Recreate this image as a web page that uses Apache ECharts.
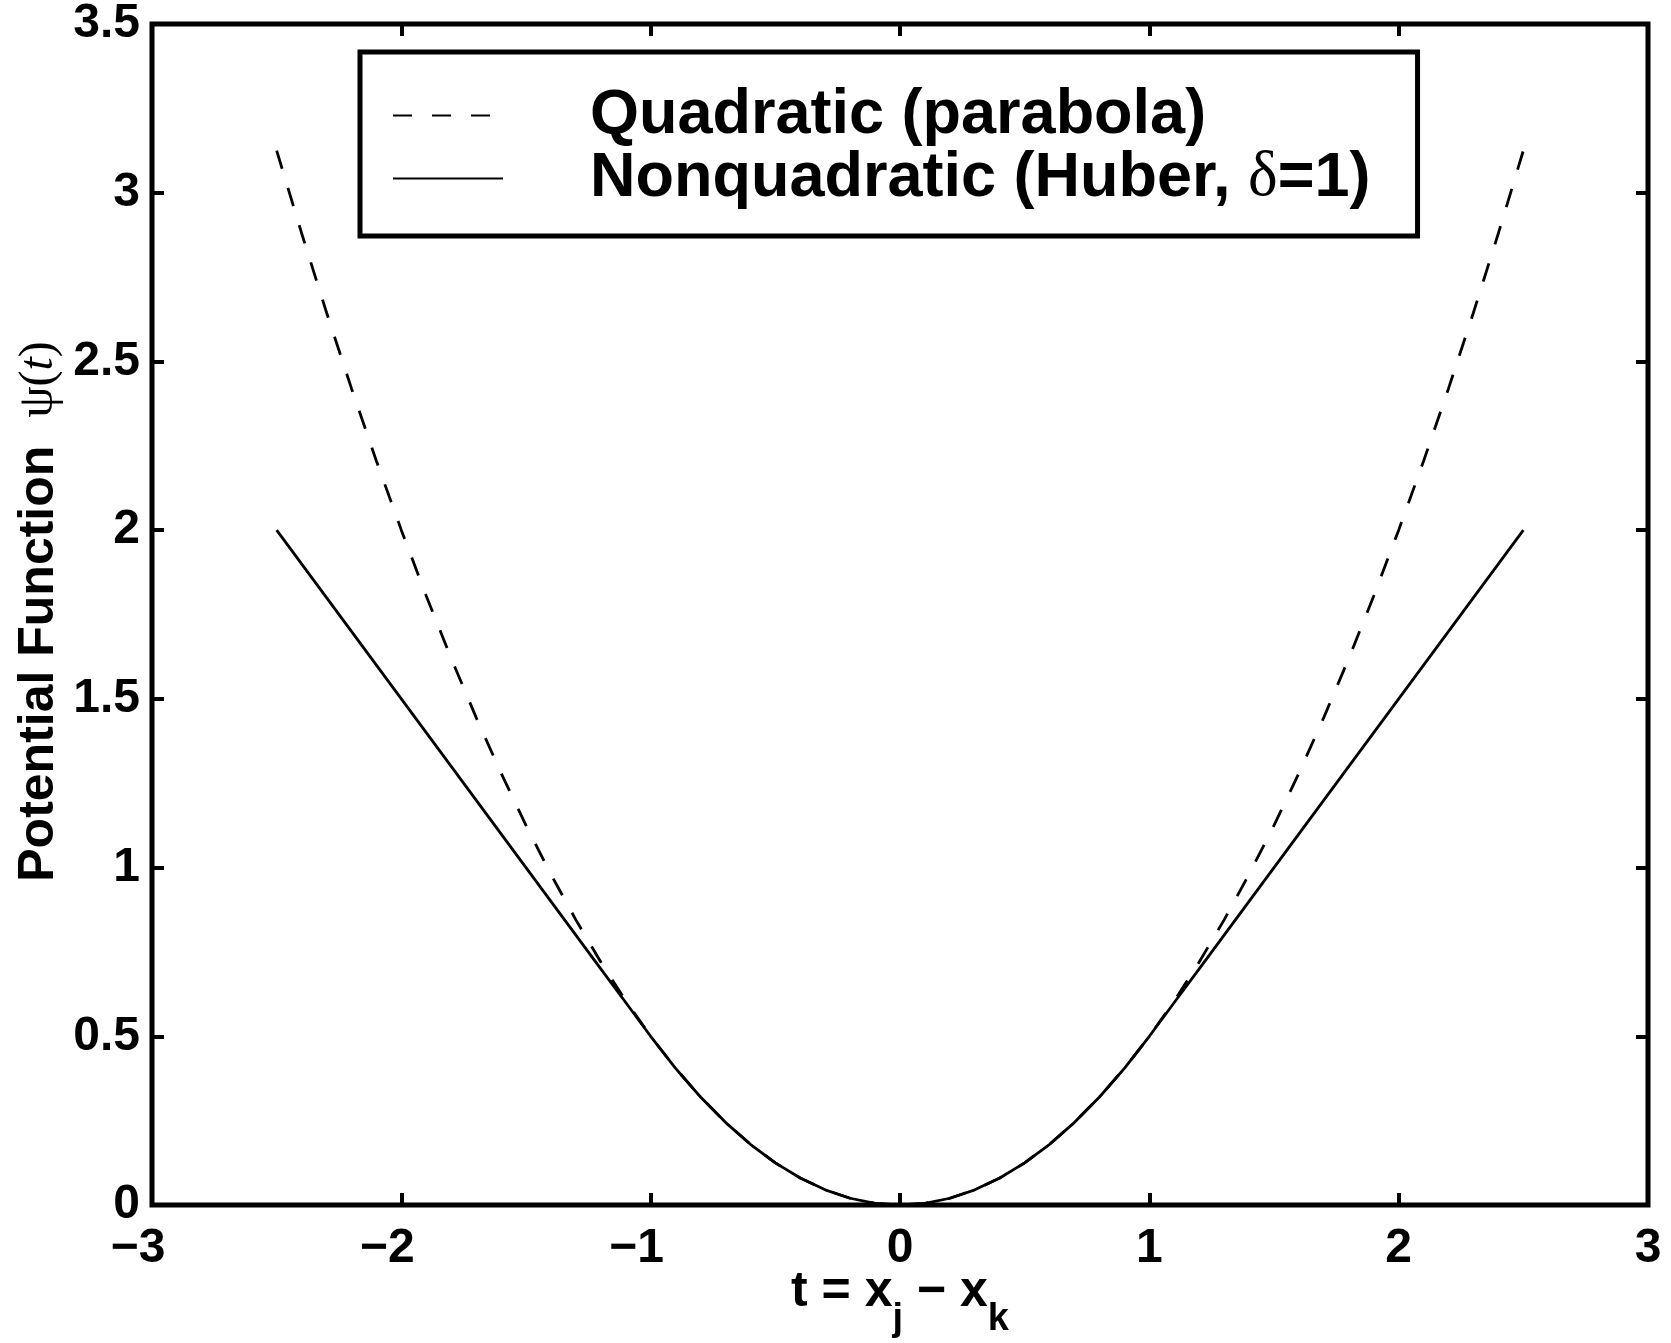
<!DOCTYPE html>
<html>
<head>
<meta charset="utf-8">
<title>Potential Function</title>
<script src="https://cdn.jsdelivr.net/npm/echarts@6/dist/echarts.min.js"></script>
<style>
  html, body { margin: 0; padding: 0; background: #ffffff; }
  #chart { width: 1671px; height: 1343px; }
</style>
</head>
<body>
<div id="chart"></div>
<script>
// Sample points of the difference t = x_j - x_k
const tValues = [
  -2.5, -2.4, -2.3, -2.2, -2.1, -2.0, -1.9, -1.8, -1.7, -1.6,
  -1.5, -1.4, -1.3, -1.2, -1.1, -1.0, -0.9, -0.8, -0.7, -0.6,
  -0.5, -0.4, -0.3, -0.2, -0.1, 0.0, 0.1, 0.2, 0.3, 0.4,
  0.5, 0.6, 0.7, 0.8, 0.9, 1.0, 1.1, 1.2, 1.3, 1.4,
  1.5, 1.6, 1.7, 1.8, 1.9, 2.0, 2.1, 2.2, 2.3, 2.4, 2.5
];

// Quadratic potential (parabola)
const quadraticValues = [
  3.125, 2.88, 2.645, 2.42, 2.205, 2.0, 1.805, 1.62, 1.445, 1.28,
  1.125, 0.98, 0.845, 0.72, 0.605, 0.5, 0.405, 0.32, 0.245, 0.18,
  0.125, 0.08, 0.045, 0.02, 0.005, 0.0, 0.005, 0.02, 0.045, 0.08,
  0.125, 0.18, 0.245, 0.32, 0.405, 0.5, 0.605, 0.72, 0.845, 0.98,
  1.125, 1.28, 1.445, 1.62, 1.805, 2.0, 2.205, 2.42, 2.645, 2.88, 3.125
];

// Huber potential with delta = 1
const huberValues = [
  2.0, 1.9, 1.8, 1.7, 1.6, 1.5, 1.4, 1.3, 1.2, 1.1,
  1.0, 0.9, 0.8, 0.7, 0.6, 0.5, 0.405, 0.32, 0.245, 0.18,
  0.125, 0.08, 0.045, 0.02, 0.005, 0.0, 0.005, 0.02, 0.045, 0.08,
  0.125, 0.18, 0.245, 0.32, 0.405, 0.5, 0.6, 0.7, 0.8, 0.9,
  1.0, 1.1, 1.2, 1.3, 1.4, 1.5, 1.6, 1.7, 1.8, 1.9, 2.0
];

const seriesNames = ['Quadratic (parabola)', 'Nonquadratic (Huber, δ=1)'];
const xTicks = { min: -3, max: 3, step: 1 };
const yTicks = { min: 0, max: 3.5, step: 0.5 };

const SANS = '"Liberation Sans", Arial, Helvetica, sans-serif';
const SERIF = '"Liberation Serif", "DejaVu Serif", serif';

const chart = echarts.init(document.getElementById('chart'), null, { renderer: 'canvas' });

const tickStyle = { show: true, inside: true, length: 12, lineStyle: { color: '#000', width: 4 } };
const labelFont = { color: '#000', fontFamily: SANS, fontWeight: 'bold', fontSize: 48 };

// Negative tick labels keep the digits centred on the tick, the minus hangs left
function signedTick(v) {
  if (v < 0) return '{neg|\u2212' + Math.abs(v) + '}';
  return '{pos|' + v + '}';
}

function legendLabel(name) {
  const i = name.indexOf('δ');
  if (i < 0) return '{sp|}{n|' + name + '}';
  return '{sp|}{n|' + name.slice(0, i) + '}{g|δ}{n|' + name.slice(i + 1) + '}';
}

const option = {
  backgroundColor: '#ffffff',
  animation: false,
  grid: {
    left: 152, right: 23, top: 24, bottom: 138,
    outerBoundsMode: 'none',
    containLabel: false,
    show: true, borderColor: '#000', borderWidth: 5, backgroundColor: 'transparent'
  },
  legend: {
    orient: 'vertical',
    left: 360, top: 52,
    padding: [32, 47, 26, 32],
    itemGap: 0,
    itemWidth: 110,
    itemHeight: 20,
    backgroundColor: '#ffffff',
    borderColor: '#000',
    borderWidth: 5,
    borderRadius: 0,
    itemStyle: { opacity: 0 },
    data: seriesNames,
    formatter: legendLabel,
    textStyle: {
      color: '#000',
      fontSize: 63,
      lineHeight: 59,
      rich: {
        sp: { width: 82, lineHeight: 59 },
        n: { fontFamily: SANS, fontWeight: 'bold', fontSize: 63, lineHeight: 59, color: '#000' },
        g: { fontFamily: SERIF, fontWeight: 'normal', fontSize: 63, lineHeight: 59, color: '#000' }
      }
    }
  },
  xAxis: [
    {
      type: 'value', position: 'bottom',
      min: xTicks.min, max: xTicks.max, interval: xTicks.step,
      axisLine: { show: false, onZero: false },
      axisTick: tickStyle,
      splitLine: { show: false },
      axisLabel: Object.assign({
        margin: 20,
        formatter: signedTick,
        rich: {
          neg: Object.assign({ padding: [0, 28, 0, 0] }, labelFont),
          pos: Object.assign({}, labelFont)
        }
      }, labelFont),
      name: '{a|t = x}{s|j}{a| \u2212 x}{s|k}',
      nameLocation: 'middle',
      nameGap: 62,
      nameMoveOverlap: false,
      nameTextStyle: {
        rich: {
          a: { fontFamily: SANS, fontWeight: 'bold', fontSize: 50, color: '#000', verticalAlign: 'top', padding: [0, 0, 20, 0] },
          s: { fontFamily: SANS, fontWeight: 'bold', fontSize: 38, color: '#000', verticalAlign: 'top', padding: [34, 0, 0, 0] }
        }
      }
    },
    {
      type: 'value', position: 'top',
      min: xTicks.min, max: xTicks.max, interval: xTicks.step,
      axisLine: { show: false, onZero: false },
      axisTick: tickStyle,
      splitLine: { show: false },
      axisLabel: { show: false }
    }
  ],
  yAxis: [
    {
      type: 'value', position: 'left',
      min: yTicks.min, max: yTicks.max, interval: yTicks.step,
      axisLine: { show: false, onZero: false },
      axisTick: tickStyle,
      splitLine: { show: false },
      axisLabel: Object.assign({ margin: 12 }, labelFont),
      name: '{b|Potential Function  }{p|ψ}{q|(}{i|t}{q|)}',
      nameLocation: 'middle',
      nameGap: 88,
      nameRotate: 90,
      nameMoveOverlap: false,
      nameTextStyle: {
        padding: [0, 0, 0, 6],
        rich: {
          b: { fontFamily: SANS, fontWeight: 'bold', fontSize: 50, color: '#000' },
          p: { fontFamily: SERIF, fontWeight: 'normal', fontSize: 50, color: '#000' },
          q: { fontFamily: SERIF, fontWeight: 'normal', fontSize: 48, color: '#000' },
          i: { fontFamily: SERIF, fontStyle: 'italic', fontWeight: 'normal', fontSize: 48, color: '#000' }
        }
      }
    },
    {
      type: 'value', position: 'right',
      min: yTicks.min, max: yTicks.max, interval: yTicks.step,
      axisLine: { show: false, onZero: false },
      axisTick: tickStyle,
      splitLine: { show: false },
      axisLabel: { show: false }
    }
  ],
  series: [
    {
      name: seriesNames[0],
      type: 'line',
      xAxisIndex: 0, yAxisIndex: 0,
      showSymbol: false, symbol: 'none',
      itemStyle: { color: '#000' },
      lineStyle: { color: '#000', width: 2.8, type: [19, 20] },
      data: tValues.map((t, i) => [t, quadraticValues[i]])
    },
    {
      name: seriesNames[1],
      type: 'line',
      xAxisIndex: 0, yAxisIndex: 0,
      showSymbol: false, symbol: 'none',
      itemStyle: { color: '#000' },
      lineStyle: { color: '#000', width: 2.8, type: 'solid' },
      data: tValues.map((t, i) => [t, huberValues[i]])
    }
  ]
};

chart.setOption(option);
</script>
</body>
</html>
